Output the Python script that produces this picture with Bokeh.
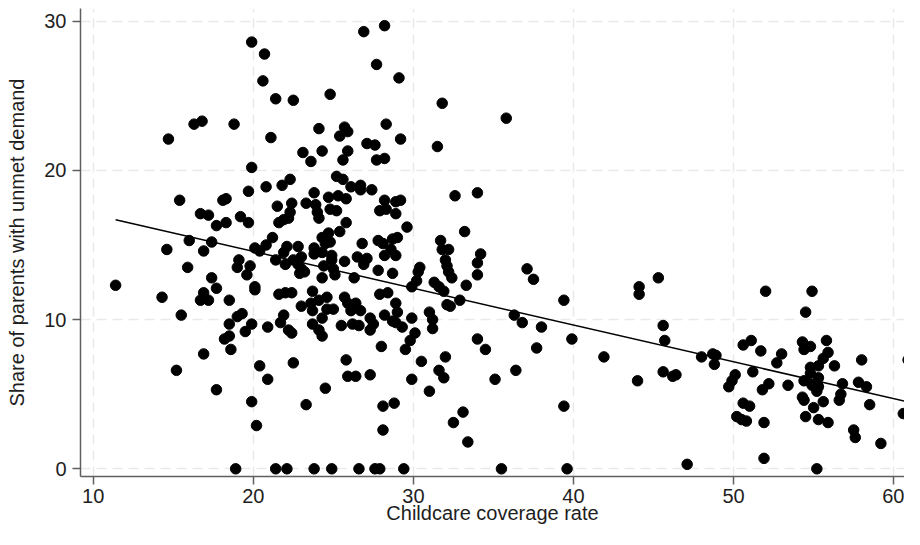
import numpy as np
from bokeh.plotting import figure
from bokeh.models import Range1d, FixedTicker
from bokeh.embed import file_html
from bokeh.resources import INLINE

# Childcare coverage rate (x) and share of parents with unmet demand (y)
coverage = [
    19.9, 20.7, 20.6, 14.7, 16.3, 16.8, 18.8, 21.1, 19.9, 20.8, 19.7, 15.4, 18.1, 18.3, 16.7, 17.2,
    17.7, 18.3, 19.2, 19.7, 16.0, 17.4, 14.6, 16.9, 20.1, 20.4, 20.8, 15.9, 19.1, 19.0, 19.8, 19.6,
    11.4, 17.4, 17.7, 16.9, 16.7, 17.2, 20.1, 20.1, 18.5, 14.3, 15.5, 19.0, 19.3, 18.5, 19.9, 20.9,
    19.5, 18.2, 18.5, 18.6, 16.9, 15.2, 20.4, 20.9, 17.7, 19.9, 20.2, 18.9,
    26.9, 28.2, 27.7, 24.8, 21.4, 22.5, 24.1, 25.7, 25.9, 25.4, 28.3, 23.1, 23.6, 24.3, 25.9, 25.6,
    27.1, 27.6, 27.7, 28.2, 21.8, 22.3, 25.2, 25.6, 26.1, 26.7, 26.7, 27.4, 23.8, 21.5, 22.4, 23.3,
    23.9, 24.7, 25.3, 25.8, 24.8, 25.2, 24.0, 24.1, 22.3, 22.2, 21.9, 21.6, 25.8, 28.2, 27.9, 28.3,
    24.7, 25.4, 21.2, 24.3, 24.5, 24.8, 22.1, 22.8, 23.8, 26.8, 27.8, 28.1,
    21.9, 21.4, 22.0, 22.5, 23.0, 22.8, 23.0, 22.9, 23.2, 23.8, 24.3, 24.9, 24.9, 24.4, 25.0, 24.3,
    25.1, 25.7, 26.5, 27.1, 26.9, 28.2, 26.3, 27.8, 21.6, 22.0, 22.4, 23.7, 24.6, 24.1, 23.0, 23.6,
    23.7, 24.6, 25.0, 25.7, 25.9, 26.4, 26.1, 26.7, 27.9, 28.4, 21.9, 21.7, 22.2, 22.4, 24.3, 23.7,
    24.1, 24.3, 25.5, 26.2, 26.6, 27.3, 27.5, 27.3, 28.2, 28.0, 22.5, 25.8, 25.9, 26.4, 27.3, 24.5,
    23.3, 28.1, 28.1, 21.4, 22.1, 23.8, 24.9, 26.6, 27.6, 27.9,
    29.1, 31.8, 35.8, 29.2, 31.5, 32.6, 34.0, 28.9, 29.2, 28.9, 29.6, 28.7, 29.0, 33.2, 31.7, 32.2,
    31.8, 28.6, 28.9, 32.0, 32.1, 32.2, 32.4, 34.2, 34.0, 34.0, 30.4, 30.3, 28.7, 30.2, 29.9, 31.3,
    31.6, 31.9, 33.3, 32.1, 32.3, 32.9, 28.9, 29.0, 28.7, 28.9, 29.3, 29.9, 31.0, 31.2, 31.2, 30.1,
    29.8, 29.5, 34.0, 34.5, 30.5, 32.0, 31.6, 31.9, 29.9, 35.1, 31.0, 28.8, 33.1, 32.5, 33.4, 29.4,
    35.5,
    37.1, 37.5, 39.4, 36.3, 36.8, 38.0, 39.9, 37.7, 36.4, 39.4, 39.6, 41.9, 44.1, 44.1, 45.3, 45.6,
    45.7, 44.0, 45.6, 46.2, 46.4, 48.0, 47.1,
    52.0, 54.9, 54.5, 48.7, 48.9, 48.8, 50.6, 51.1, 51.7, 53.0, 52.7, 51.2, 50.1, 49.9, 49.7, 52.2,
    51.8, 53.4, 50.6, 51.0, 50.2, 50.5, 50.8, 51.9, 51.9, 54.3, 54.4, 54.8, 55.8, 55.9, 55.6, 54.8,
    54.8, 55.3, 55.3, 54.4, 54.9, 55.2, 55.3, 56.3, 54.3, 54.4, 55.0, 55.6, 54.5, 55.3, 55.9, 55.2,
    56.8, 56.7, 56.6, 58.0, 57.8, 58.3, 58.5, 57.5, 57.6, 59.2, 60.6, 60.9, 61.0, 61.5,
]
unmet_demand = [
    28.6, 27.8, 26.0, 22.1, 23.1, 23.3, 23.1, 22.2, 20.2, 18.9, 18.6, 18.0, 18.0, 18.1, 17.1, 17.0,
    16.3, 16.5, 16.9, 16.5, 15.3, 15.2, 14.7, 14.6, 14.8, 14.6, 15.0, 13.5, 14.0, 13.5, 13.6, 13.0,
    12.3, 12.8, 12.1, 11.8, 11.3, 11.3, 12.2, 12.0, 11.3, 11.5, 10.3, 10.2, 10.4, 9.7, 9.7, 9.5,
    9.2, 8.7, 8.9, 8.0, 7.7, 6.6, 6.9, 6.0, 5.3, 4.5, 2.9, 0.0,
    29.3, 29.7, 27.1, 25.1, 24.8, 24.7, 22.8, 22.9, 22.6, 22.3, 23.1, 21.2, 20.6, 21.3, 21.3, 20.7,
    21.8, 21.7, 20.7, 20.8, 19.0, 19.4, 19.6, 19.4, 18.9, 19.0, 18.7, 18.7, 18.5, 17.6, 17.8, 17.8,
    17.7, 18.2, 18.3, 18.1, 17.4, 17.3, 17.2, 16.8, 17.2, 16.8, 16.7, 16.5, 16.5, 18.0, 17.3, 17.4,
    15.8, 15.9, 15.5, 15.5, 15.1, 15.2, 14.9, 14.9, 14.8, 15.1, 15.3, 15.1,
    14.5, 14.0, 13.7, 14.0, 14.2, 13.7, 13.4, 13.1, 13.2, 14.4, 14.5, 14.3, 14.0, 13.6, 13.4, 12.8,
    13.0, 13.9, 14.2, 14.1, 13.7, 14.3, 12.8, 13.3, 11.7, 11.8, 11.8, 11.9, 11.5, 11.3, 10.9, 11.1,
    10.6, 10.7, 10.7, 11.5, 11.1, 11.1, 10.6, 10.6, 11.7, 11.8, 10.3, 9.8, 9.3, 9.1, 10.1, 9.7,
    9.3, 8.9, 9.6, 9.7, 9.6, 10.1, 9.7, 9.3, 10.3, 8.2, 7.1, 7.3, 6.2, 6.2, 6.3, 5.4,
    4.3, 4.2, 2.6, 0.0, 0.0, 0.0, 0.0, 0.0, 0.0, 0.0,
    26.2, 24.5, 23.5, 22.1, 21.6, 18.3, 18.5, 17.9, 18.0, 17.1, 16.2, 15.4, 15.5, 15.9, 15.3, 14.7,
    14.7, 14.7, 14.3, 14.0, 13.6, 13.2, 12.8, 14.4, 13.8, 13.0, 13.5, 13.2, 13.1, 12.6, 12.2, 12.5,
    12.2, 11.9, 12.3, 11.0, 10.9, 11.3, 11.1, 10.5, 9.9, 9.8, 9.5, 10.1, 10.5, 10.0, 9.4, 9.1,
    8.6, 8.0, 8.7, 8.0, 7.2, 7.5, 6.6, 6.1, 6.0, 6.0, 5.2, 4.4, 3.8, 3.1, 1.8, 0.0,
    0.0,
    13.4, 12.7, 11.3, 10.3, 9.8, 9.5, 8.7, 8.1, 6.6, 4.2, 0.0, 7.5, 12.2, 11.7, 12.8, 9.6,
    8.6, 5.9, 6.5, 6.2, 6.3, 7.5, 0.3,
    11.9, 11.9, 10.5, 7.7, 7.6, 7.0, 8.3, 8.6, 7.9, 7.7, 7.1, 6.5, 6.3, 5.9, 5.5, 5.7,
    5.3, 5.6, 4.4, 4.2, 3.5, 3.3, 3.2, 3.1, 0.7, 8.5, 8.0, 8.2, 8.6, 7.8, 7.4, 6.8,
    6.4, 6.9, 6.1, 5.9, 5.6, 5.2, 5.5, 6.9, 4.8, 4.6, 4.1, 4.5, 3.5, 3.3, 3.1, 0.0,
    5.7, 5.0, 4.6, 7.3, 5.8, 5.5, 4.3, 2.6, 2.1, 1.7, 3.7, 7.3, 6.9, 6.6,
]

x_ticks = [10, 20, 30, 40, 50, 60]
y_ticks = [0, 10, 20, 30]
x_title = "Childcare coverage rate"
y_title = "Share of parents with unmet demand"

xs = np.array(coverage, dtype=float)
ys = np.array(unmet_demand, dtype=float)
slope, intercept = np.polyfit(xs, ys, 1)
fit_x = [float(xs.min()), float(xs.max())]
fit_y = [intercept + slope * v for v in fit_x]

FONT = "Liberation Sans"

p = figure(
    width=904, height=529,
    x_range=Range1d(9.207, 60.675), y_range=Range1d(-0.516, 30.851),
    output_backend="svg", toolbar_location=None,
    min_border_left=80, min_border_right=0, min_border_top=8, min_border_bottom=53,
    background_fill_color="white", border_fill_color="white",
)
p.outline_line_color = None

p.xaxis.ticker = FixedTicker(ticks=x_ticks)
p.yaxis.ticker = FixedTicker(ticks=y_ticks)
p.xgrid.ticker = FixedTicker(ticks=x_ticks)
p.ygrid.ticker = FixedTicker(ticks=y_ticks)
for g in (p.xgrid, p.ygrid):
    g.grid_line_color = "#e9e9e9"
    g.grid_line_width = 1.5
    g.grid_line_dash = "10 6"

for ax in (p.xaxis, p.yaxis):
    ax.axis_line_color = "#5f5f5f"
    ax.axis_line_width = 1.5
    ax.major_tick_line_color = "#5f5f5f"
    ax.major_tick_line_width = 1.5
    ax.major_tick_out = 8
    ax.major_tick_in = 0
    ax.minor_tick_line_color = None
    ax.major_label_text_font = FONT
    ax.major_label_text_font_size = "20px"
    ax.major_label_text_color = "#1e1e1e"
    ax.axis_label_text_font = FONT
    ax.axis_label_text_font_size = "20px"
    ax.axis_label_text_font_style = "normal"
    ax.axis_label_text_color = "#1e1e1e"

p.xaxis.axis_label = x_title
p.yaxis.axis_label = y_title
p.xaxis.major_label_standoff = 4
p.xaxis.axis_label_standoff = -4
p.yaxis.major_label_standoff = 6
p.yaxis.axis_label_standoff = 13

p.scatter(xs, ys, size=10.5, color="black", line_color="black")
p.line(fit_x, fit_y, line_color="black", line_width=1.5)

open("out.html", "w").write(file_html(p, INLINE))
